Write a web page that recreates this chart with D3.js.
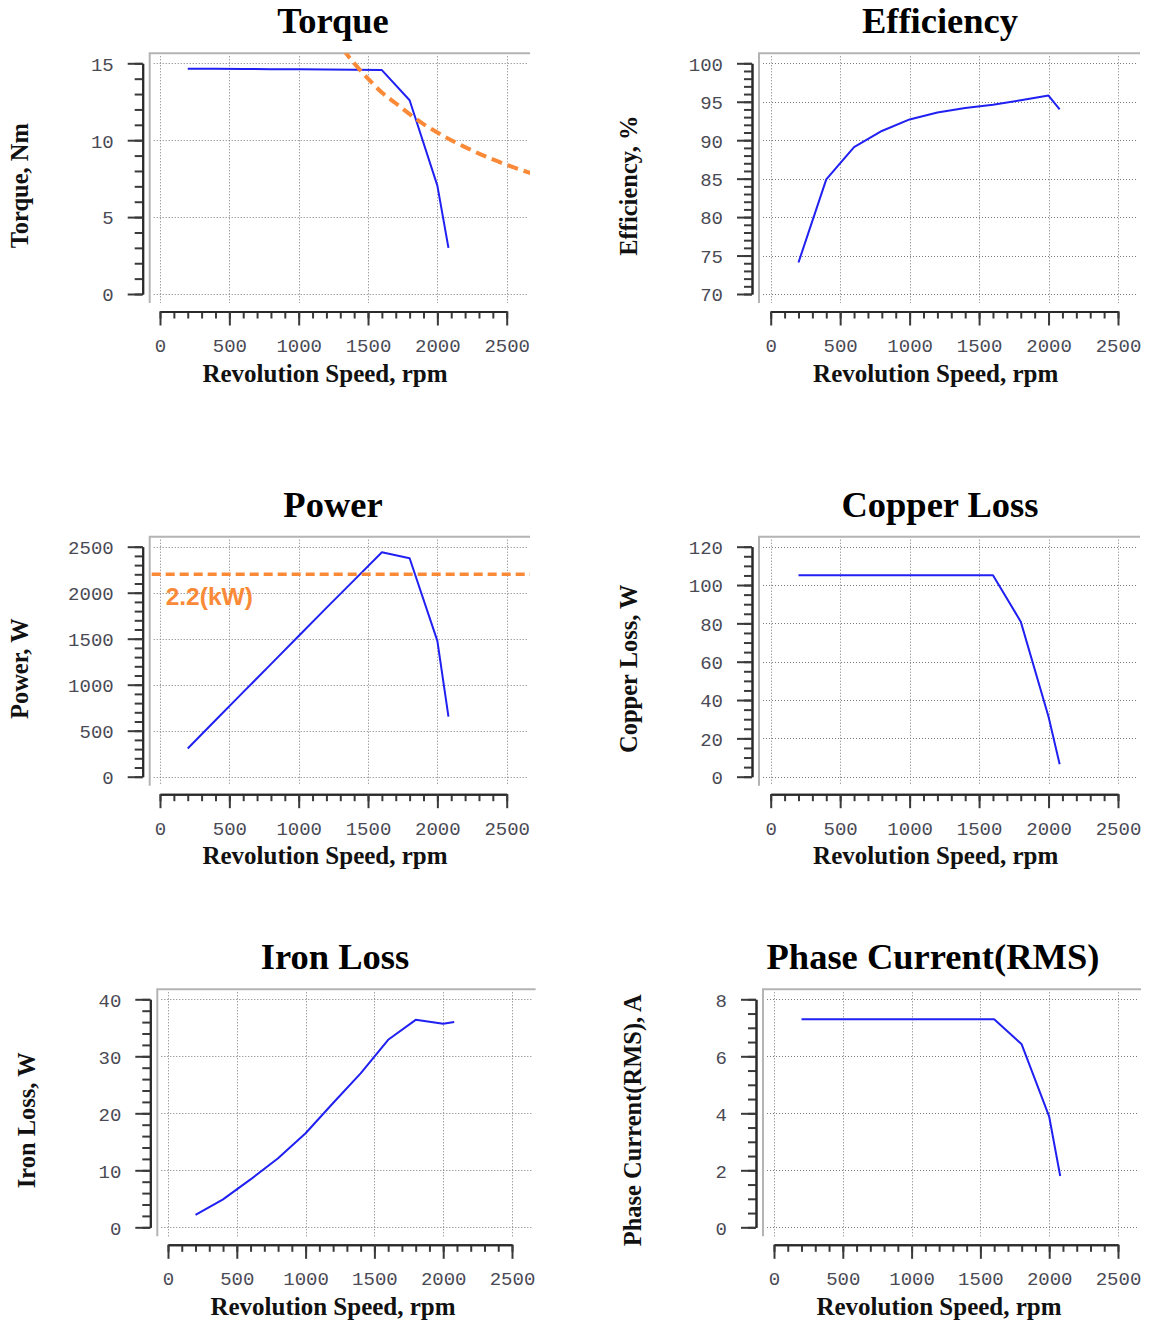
<!DOCTYPE html>
<html>
<head>
<meta charset="utf-8">
<script src="https://cdn.jsdelivr.net/npm/d3@7"></script>
<style>
  html, body { margin: 0; padding: 0; background: #ffffff; }
  svg { display: block; }
  .tick text { font-family: "Liberation Mono", "Courier New", monospace; font-size: 19px; fill: #4a4a55; }
</style>
</head>
<body>
<svg id="chart" width="1152" height="1323"></svg>
<script>
// Motor characteristic data versus shaft speed (rpm)
const speeds       = [200, 400, 600, 800, 1000, 1200, 1400, 1600, 1800, 2000, 2080];
const torque       = [14.65, 14.64, 14.63, 14.62, 14.61, 14.60, 14.58, 14.56, 12.6, 7.05, 3.0];
const efficiency   = [74.1, 84.9, 89.1, 91.2, 92.7, 93.6, 94.2, 94.6, 95.2, 95.8, 94.0];
const power        = [307, 613, 919, 1224, 1530, 1835, 2137, 2439, 2375, 1476, 653];
const copperLoss   = [105.1, 105.1, 105.1, 105.1, 105.1, 105.1, 105.1, 105.1, 80.9, 31.3, 6.5];
const ironLoss     = [2.2, 4.9, 8.4, 12.1, 16.5, 21.8, 27.0, 32.9, 36.4, 35.7, 36.0];
const phaseCurrent = [7.3, 7.3, 7.3, 7.3, 7.3, 7.3, 7.3, 7.3, 6.42, 3.88, 1.8];

// Rated output (constant-power limit) and its torque envelope
const ratedPower = 2200;
const ratedLabel = "2.2(kW)";
const ratedSpeeds = [1320, 1400, 1500, 1600, 1700, 1800, 1900, 2000, 2100, 2200, 2300, 2400, 2500, 2600, 2700];
const ratedTorque = [15.9, 15.0, 14.0, 13.1, 12.4, 11.7, 11.05, 10.5, 10.0, 9.55, 9.13, 8.75, 8.4, 8.08, 7.78];

// Axis tick values
const speedTicks = [0, 500, 1000, 1500, 2000, 2500];
const xLabel = "Revolution Speed, rpm";

const BLUE = "#2020f2";
const ORANGE = "#fa8a38";

// Column / row geometry
const colL  = { axisX: 142.7, x0: 160,   x1: 506.7, frameR: 530,   titleX: 333 };
const colR  = { axisX: 752,   x0: 770.7, x1: 1118,  frameR: 1140,  titleX: 940 };
const colBL = { axisX: 150.3, x0: 168,   x1: 512,   frameR: 535.6, titleX: 335 };
const colBR = { axisX: 756,   x0: 774,   x1: 1118,  frameR: 1141,  titleX: 933 };
const row1 = { yTop: 63.3,  yBot: 294 };
const row2 = { yTop: 546.7, yBot: 776.7 };
const row3 = { yTop: 999.3, yBot: 1227.3 };

const panels = [
  { title: "Torque", yLabel: "Torque, Nm", values: torque, yDomain: [0, 15], major: 5, minor: 1, col: colL, row: row1, extra: "torqueLimit" },
  { title: "Efficiency", yLabel: "Efficiency, %", values: efficiency, yDomain: [70, 100], major: 5, minor: 1, col: colR, row: row1 },
  { title: "Power", yLabel: "Power, W", values: power, yDomain: [0, 2500], major: 500, minor: 100, col: colL, row: row2, extra: "powerLimit" },
  { title: "Copper Loss", yLabel: "Copper Loss, W", values: copperLoss, yDomain: [0, 120], major: 20, minor: 5, col: colR, row: row2 },
  { title: "Iron Loss", yLabel: "Iron Loss, W", values: ironLoss, yDomain: [0, 40], major: 10, minor: 2, col: colBL, row: row3 },
  { title: "Phase Current(RMS)", yLabel: "Phase Current(RMS), A", values: phaseCurrent, yDomain: [0, 8], major: 2, minor: 0.5, col: colBR, row: row3 }
];

const svg = d3.select("#chart");
const rangeSteps = (a, b, s) => d3.range(Math.round((b - a) / s) + 1).map(i => +(a + i * s).toFixed(6));
const intFmt = d3.format("d");

panels.forEach((p, i) => {
  const c = p.col, r = p.row;
  const frameL = c.axisX + 7, frameT = r.yTop - 10, frameB = r.yBot + 9;
  const xAxisY = r.yBot + 17.5;
  const x = d3.scaleLinear().domain([0, 2500]).range([c.x0, c.x1]);
  const y = d3.scaleLinear().domain(p.yDomain).range([r.yBot, r.yTop]);
  const g = svg.append("g");

  // clip region of the plotting frame
  const clipId = "clip" + i;
  svg.append("clipPath").attr("id", clipId)
    .append("rect").attr("x", frameL).attr("y", frameT)
    .attr("width", c.frameR - frameL).attr("height", frameB - frameT);

  // dotted grid
  const grid = g.append("g").attr("stroke", "#7a7a7a").attr("stroke-width", 1).attr("stroke-dasharray", "1,2");
  grid.selectAll("line.h").data(rangeSteps(p.yDomain[0], p.yDomain[1], p.major)).join("line")
    .attr("x1", frameL + 4).attr("x2", c.frameR - 3)
    .attr("y1", d => Math.round(y(d)) + 0.5).attr("y2", d => Math.round(y(d)) + 0.5);
  grid.selectAll("line.v").data(speedTicks).join("line")
    .attr("y1", frameT + 3).attr("y2", frameB)
    .attr("x1", d => Math.round(x(d)) + 0.5).attr("x2", d => Math.round(x(d)) + 0.5);

  // sunken frame border (top and left)
  g.append("path")
    .attr("d", `M${frameL},${frameB}V${frameT}H${c.frameR}`)
    .attr("fill", "none").attr("stroke", "#b4b4b4").attr("stroke-width", 2);

  // y axis: minor then major ticks
  const yMinor = d3.axisLeft(y).tickValues(rangeSteps(p.yDomain[0], p.yDomain[1], p.minor)).tickSize(8).tickSizeOuter(0).tickFormat("");
  const yMajor = d3.axisLeft(y).tickValues(rangeSteps(p.yDomain[0], p.yDomain[1], p.major)).tickSize(15).tickSizeOuter(0).tickPadding(14).tickFormat(intFmt);
  const ya = g.append("g").attr("transform", `translate(${c.axisX},0)`);
  ya.append("g").call(yMinor);
  ya.append("g").call(yMajor);
  ya.selectAll("line").attr("stroke", "#3a3a3a").attr("stroke-width", 2);
  ya.selectAll("path.domain").attr("stroke", "#2a2a2a").attr("stroke-width", 2);
  ya.selectAll("text").attr("dy", "0.36em");

  // x axis: separate ruler under the frame
  const xMinor = d3.axisBottom(x).tickValues(rangeSteps(0, 2500, 100)).tickSize(7).tickSizeOuter(0).tickFormat("");
  const xMajor = d3.axisBottom(x).tickValues(speedTicks).tickSize(14).tickSizeOuter(0).tickFormat(intFmt);
  const xa = g.append("g").attr("transform", `translate(0,${xAxisY})`);
  xa.append("g").call(xMinor);
  xa.append("g").call(xMajor);
  xa.selectAll("line").attr("stroke", "#3a3a3a").attr("stroke-width", 2);
  xa.selectAll("path.domain").attr("stroke", "#2a2a2a").attr("stroke-width", 2);
  xa.selectAll("text").attr("y", 33.5).attr("dy", "0.36em");

  // titles and axis labels
  g.append("text").text(p.title)
    .attr("x", c.titleX).attr("y", r.yTop - 30)
    .attr("text-anchor", "middle")
    .attr("font-family", "Liberation Serif, Times New Roman, serif")
    .attr("font-weight", "bold").attr("font-size", 36.5).attr("fill", "#000");
  g.append("text").text(xLabel)
    .attr("x", c.x0 + 165).attr("y", xAxisY + 70)
    .attr("text-anchor", "middle")
    .attr("font-family", "Liberation Serif, Times New Roman, serif")
    .attr("font-weight", "bold").attr("font-size", 25).attr("fill", "#111");
  g.append("text").text(p.yLabel)
    .attr("transform", `translate(${c.axisX - 115},${(r.yTop + r.yBot) / 2 + 7}) rotate(-90)`)
    .attr("text-anchor", "middle")
    .attr("font-family", "Liberation Serif, Times New Roman, serif")
    .attr("font-weight", "bold").attr("font-size", 24.5).attr("fill", "#111");

  const plot = g.append("g").attr("clip-path", `url(#${clipId})`);

  // measured curve
  const line = d3.line().x((d, k) => x(speeds[k])).y(d => y(d));
  plot.append("path").datum(p.values)
    .attr("d", line)
    .attr("fill", "none").attr("stroke", BLUE).attr("stroke-width", 2)
    .attr("stroke-linejoin", "round");

  if (p.extra === "torqueLimit") {
    const tl = d3.line().curve(d3.curveMonotoneX).x((d, k) => x(ratedSpeeds[k])).y(d => y(d));
    plot.append("path").datum(ratedTorque)
      .attr("d", tl)
      .attr("fill", "none").attr("stroke", ORANGE).attr("stroke-width", 4)
      .attr("stroke-dasharray", "11,6");
  }
  if (p.extra === "powerLimit") {
    plot.append("line")
      .attr("x1", frameL + 2).attr("x2", c.frameR)
      .attr("y1", y(ratedPower)).attr("y2", y(ratedPower))
      .attr("stroke", ORANGE).attr("stroke-width", 3.5).attr("stroke-dasharray", "9,5");
    g.append("text").text(ratedLabel)
      .attr("x", frameL + 16).attr("y", y(ratedPower) + 31)
      .attr("font-family", "Liberation Sans, Arial, sans-serif")
      .attr("font-weight", "bold").attr("font-size", 24.5).attr("fill", ORANGE);
  }
});
</script>
</body>
</html>
